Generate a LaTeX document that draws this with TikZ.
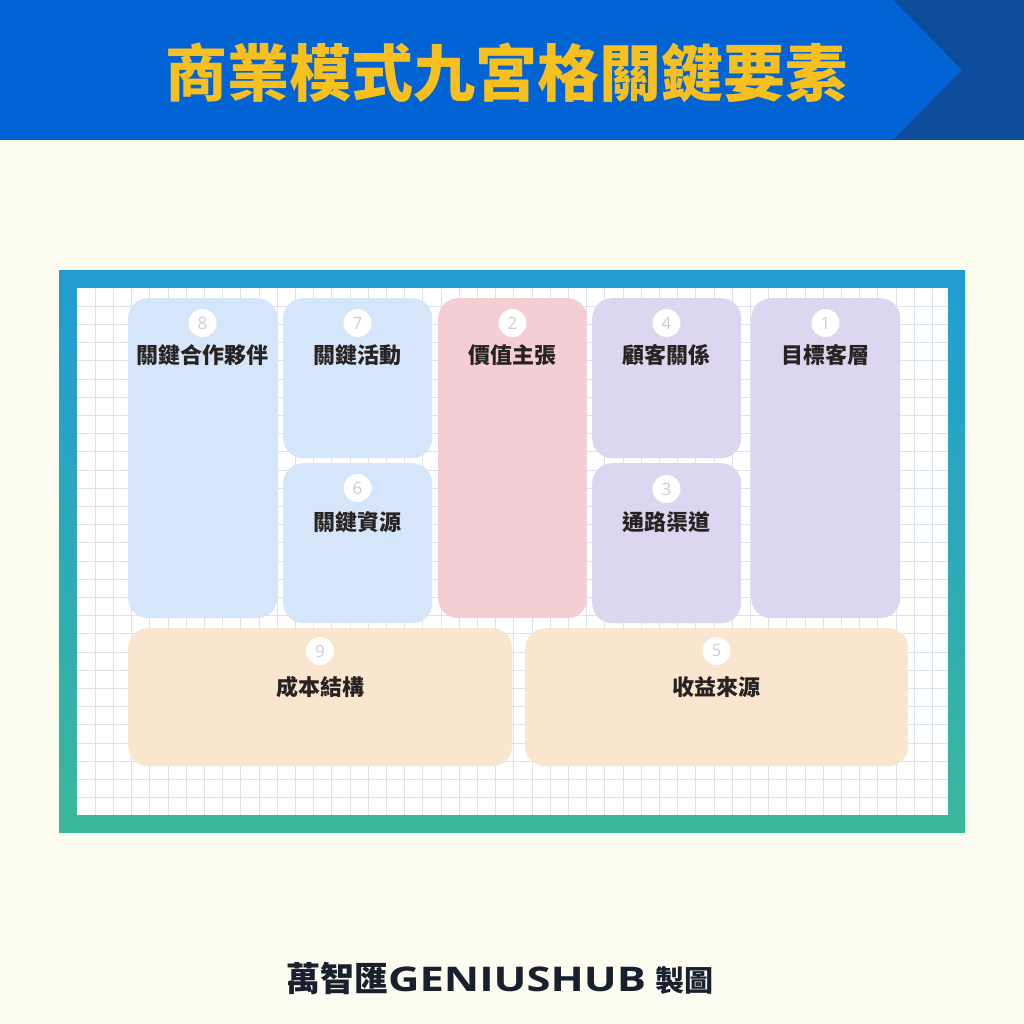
\documentclass[tikz,border=0pt]{standalone}
\usepackage{fontspec}
\newfontfamily\cjk{Noto Sans CJK TC}
\newfontfamily\lat{Open Sans}
\definecolor{bgc}{RGB}{253,252,240}
\definecolor{hdr}{RGB}{2,100,212}
\definecolor{hdrdark}{RGB}{14,77,155}
\definecolor{titlec}{RGB}{247,192,30}
\definecolor{frtop}{RGB}{33,156,212}
\definecolor{frbot}{RGB}{58,184,154}
\definecolor{gridc}{RGB}{218,226,236}
\definecolor{cblue}{RGB}{214,230,250}
\definecolor{cpink}{RGB}{245,205,212}
\definecolor{clav}{RGB}{221,214,240}
\definecolor{cpeach}{RGB}{250,229,206}
\definecolor{lblc}{RGB}{40,35,35}
\definecolor{numc}{RGB}{205,205,212}
\definecolor{footc}{RGB}{25,32,45}
\begin{document}
\begin{tikzpicture}[x=1pt,y=-1pt,
  box/.style={rounded corners=20pt, anchor=north west, inner sep=0pt, draw=none},
  tall/.style={minimum width=149pt, minimum height=320pt},
  half/.style={minimum width=149pt, minimum height=160pt},
  wide/.style={minimum width=384pt, minimum height=138pt},
  num/.style={circle, fill=white, minimum size=28pt, inner sep=0pt, text=numc, font=\lat\fontsize{17}{17}\selectfont},
  lbl/.style={text=lblc, font=\cjk\bfseries\fontsize{22}{22}\selectfont, inner sep=0pt}]
\useasboundingbox (0,0) rectangle (1024,1024);
\fill[bgc] (0,0) rectangle (1024,1024);
% header
\fill[hdr] (0,0) rectangle (1024,140);
\fill[hdrdark] (893,0) -- (1024,0) -- (1024,140) -- (893,140) -- (962,70) -- cycle;
\node[text=titlec, inner sep=0pt, font=\cjk\bfseries\fontsize{62}{62}\selectfont] (title) at (506,73) {商業模式九宮格關鍵要素};
% frame
\shade[top color=frtop, bottom color=frbot] (59,270) rectangle (965,832);
\fill[white] (77,288) rectangle (948,815);
\foreach \i in {1,...,47} \draw[gridc, line width=0.8pt] (77+\i*18.2,288) -- (77+\i*18.2,815);
\foreach \j in {1,...,28} \draw[gridc, line width=0.8pt] (77,288+\j*18.2) -- (948,288+\j*18.2);
% boxes
\node[box, tall, fill=cblue] (b8) at (128,298) {};
\node[box, half, fill=cblue] (b7) at (283,298) {};
\node[box, half, fill=cblue] (b6) at (283,463) {};
\node[box, tall, fill=cpink] (b2) at (438,298) {};
\node[box, half, fill=clav] (b4) at (592,298) {};
\node[box, half, fill=clav] (b3) at (592,463) {};
\node[box, tall, fill=clav] (b1) at (751,298) {};
\node[box, wide, fill=cpeach] (b9) at (128,628) {};
\node[box, wide, fill=cpeach, minimum width=383pt] (b5) at (525,628) {};
% numbers
\node[num] (n8) at (202.5,323) {8};
\node[num] (n7) at (357.5,323) {7};
\node[num] (n2) at (512.5,323) {2};
\node[num] (n4) at (666.5,323) {4};
\node[num] (n1) at (825.5,323) {1};
\node[num] (n6) at (357.5,488) {6};
\node[num] (n3) at (666.5,489) {3};
\node[num] (n9) at (320,651) {9};
\node[num] (n5) at (716.5,651) {5};
% labels
\node[lbl] (l8) at (202.5,355) {關鍵合作夥伴};
\node[lbl] (l7) at (357.5,355) {關鍵活動};
\node[lbl] (l2) at (512.5,355) {價值主張};
\node[lbl] (l4) at (666.5,355) {顧客關係};
\node[lbl] (l1) at (825.5,355) {目標客層};
\node[lbl] (l6) at (357.5,522) {關鍵資源};
\node[lbl] (l3) at (666.5,522) {通路渠道};
\node[lbl] (l9) at (320,687) {成本結構};
\node[lbl] (l5) at (716.5,687) {收益來源};
% footer
\node[text=footc, inner sep=0pt] (foot) at (500,978) {{\cjk\bfseries\fontsize{34}{34}\selectfont 萬智匯}\scalebox{1.28}[1]{\lat\bfseries\fontsize{34}{34}\selectfont GENIUSHUB}\hspace{10pt}{\cjk\bfseries\fontsize{29}{29}\selectfont 製圖}};
\end{tikzpicture}
\end{document}
